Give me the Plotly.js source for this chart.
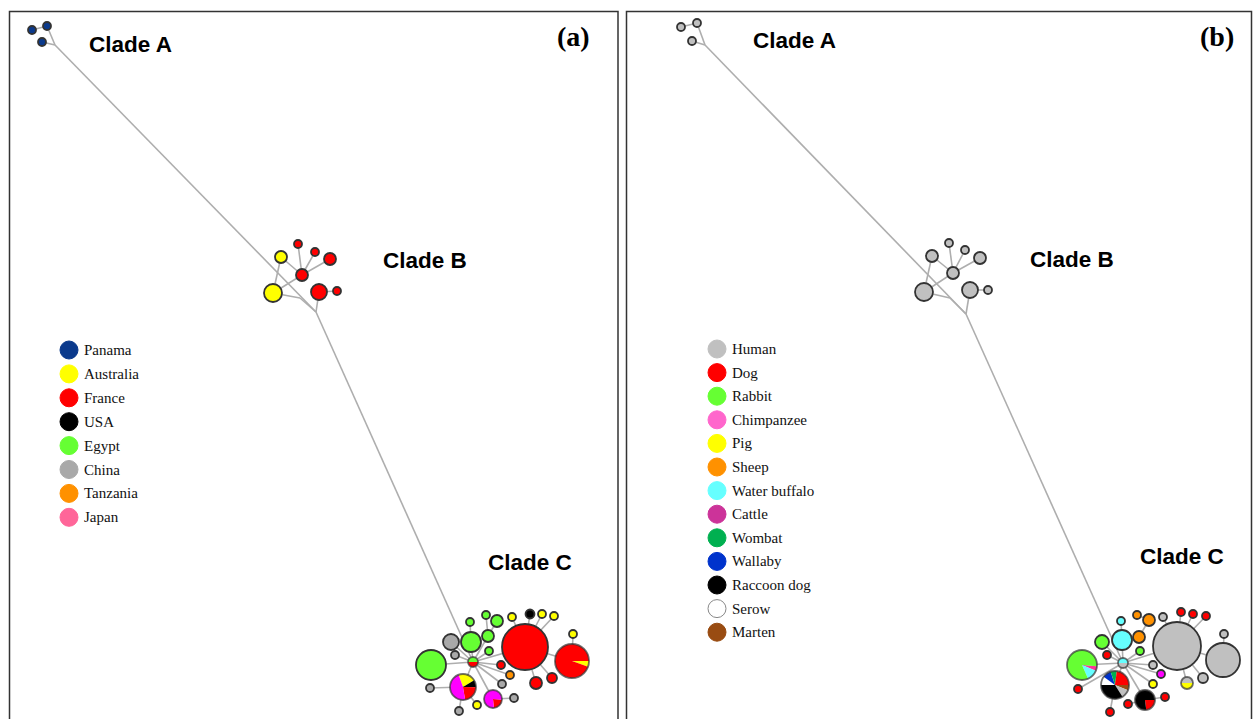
<!DOCTYPE html>
<html>
<head>
<meta charset="utf-8">
<script src="https://cdn.plot.ly/plotly-3.0.1.min.js"></script>
<style>html,body{margin:0;padding:0;background:#fff;}#chart{width:1254px;height:719px;}</style>
</head>
<body>
<div id="chart"></div>
<script>
// ---------- legend categories ----------
const countryNames = ['Panama','Australia','France','USA','Egypt','China','Tanzania','Japan'];
const countryColors = ['#0b3a8c','#ffff00','#ff0000','#000000','#66ff33','#a9a9a9','#ff9100','#ff6699'];
const hostNames = ['Human','Dog','Rabbit','Chimpanzee','Pig','Sheep','Water buffalo','Cattle','Wombat','Wallaby','Raccoon dog','Serow','Marten'];
const hostColors = ['#c0c0c0','#ff0000','#66ff33','#ff66cc','#ffff00','#ff9100','#66ffff','#cc3399','#00b050','#0033cc','#000000','#ffffff','#994c12'];
const extraColors = {magenta:'#ff00ff', pink:'#ff3399', none:null};

// ---------- panel (a) network: node layout positions, radius, category ----------
const aNodeX = [32,47,42,55, 316,300,273,281,302,298,315,330,319,337,
  473,431,451,471,470,488,486,497,489,455,501,510,502,463,493,514,477,459,430,525,572,573,512,530,542,554,536,552];
const aNodeY = [30,26,42,45, 312,298,293,257,275,244,252,259,292,291,
  662,665,642,642,622,636,615,621,651,655,665,675,684,687,699,698,705,711,688,647,661,634,617,614,614,616,683,678];
const aNodeR = [4,4,4,0, 0,0,9,6,6,4,4,6,8,4,
  5,15,8,10,4,6,4,6,4,4,4,4,4,13,9,4,4,4,4,23,17,4,4,4.5,4,4,6,5];
const aNodeCat = ['Panama','Panama','Panama','none','none','none','Australia','Australia','France','France','France','France','France','France',
  'pie','Egypt','China','Egypt','Egypt','Egypt','Egypt','Egypt','Egypt','China','France','Tanzania','China','pie','pie','China','Australia','China','China','France','pie','Australia','Australia','USA','Australia','Australia','France','France'];
const aEdges = [[0,1],[1,3],[2,3],[3,4],[4,5],[5,6],[6,7],[6,8],[8,7],[8,9],[8,10],[8,11],[12,4],[12,13],[4,14],
  [14,15],[14,16],[14,23],[14,17],[17,18],[14,19],[19,20],[19,21],[14,22],[14,24],[14,25],[14,26],[14,27],[14,28],[28,29],[27,30],[27,31],[27,32],[14,33],[33,34],[34,35],[33,36],[33,37],[33,38],[33,39],[33,40],[33,41]];
const aPieNodes = [14,27,28,34];
const aPieStart = [0,-110,5,0];
const aPieCats = [['France','Egypt'],['Australia','USA','France','magenta'],['France','magenta'],['Australia','France']];
const aPieFrac = [[0.5,0.5],[0.22,0.09,0.22,0.47],[0.22,0.78],[0.055,0.945]];

// ---------- panel (b) network ----------
const bNodeX = [681,697,692,705, 966,950,924,932,953,949,965,980,970,988,
  1123,1122,1121,1137,1149,1139,1102,1140,1107,1082,1153,1161,1153,1078,1115,1145,1165,1128,1110,1177,1223,1224,1163,1181,1193,1206,1187,1203];
const bNodeY = [27,23,41,45, 314,298,292,256,273,243,250,258,290,290,
  663,640,621,615,620,637,642,651,655,665,665,674,684,689,685,700,697,704,712,646,660,634,617,612,614,616,683,678];
const bNodeR = [4,4,4,0, 0,0,9,6,6,4,4,6,8,4,
  5,10,4,4,6,6,7,4,4,15,4,4,4,4,14,10,4,4,4,24,17,4,4,4,4,4,6,5];
const bNodeCat = ['Human','Human','Human','none','none','none','Human','Human','Human','Human','Human','Human','Human','Human',
  'pie','Water buffalo','Water buffalo','Sheep','Sheep','Sheep','Rabbit','Rabbit','Dog','pie','Human','magenta','Pig','Dog','pie','pie','Dog','Dog','Dog','Human','Human','Human','Human','Dog','Dog','Dog','pie','Human'];
const bEdges = [[0,1],[1,3],[2,3],[3,4],[4,5],[5,6],[6,7],[6,8],[8,7],[8,9],[8,10],[8,11],[12,4],[12,13],[4,14],
  [14,15],[15,16],[15,19],[19,18],[18,17],[14,20],[14,21],[14,22],[14,23],[14,24],[14,25],[14,26],[14,27],[14,28],[14,29],[29,30],[29,31],[28,32],[14,33],[33,34],[34,35],[33,36],[33,37],[33,38],[33,39],[33,40],[33,41]];
const bPieNodes = [14,23,28,29,40];
const bPieStart = [0,5,0,0,0];
const bPieCats = [['Human','Water buffalo'],['pink','Water buffalo','Rabbit'],
  ['Marten','Human','Raccoon dog','Serow','Wallaby','Wombat','Dog'],['Dog','Raccoon dog'],['Pig','Human']];
const bPieFrac = [[0.5,0.5],[0.05,0.12,0.83],[0.06,0.1,0.34,0.1,0.1,0.07,0.23],[0.23,0.77],[0.5,0.5]];

// ---------- clade labels ----------
const cladeLabels = ['Clade A','Clade B','Clade C'];

// ===================================================
const W = 1254, H = 719;
const colorOf = {};
countryNames.forEach((n,i)=>colorOf[n]=countryColors[i]);
hostNames.forEach((n,i)=>colorOf[n]=hostColors[i]);
Object.keys(extraColors).forEach(k=>colorOf[k]=extraColors[k]);

const traces = [];
const EDGE = '#aeaeae', OUT = '#333333';

function buildPanel(X,Y,R,C,E,pieN,pieS,pieC,pieF){
  const ex=[],ey=[];
  E.forEach(([i,j])=>{ex.push(X[i],X[j],null);ey.push(Y[i],Y[j],null);});
  traces.push({type:'scatter',mode:'lines',x:ex,y:ey,line:{color:EDGE,width:1.6},hoverinfo:'skip'});
  const sx=[],sy=[],ss=[],sc=[];
  X.forEach((x,i)=>{
    if(R[i]<=0 || C[i]==='pie') return;
    sx.push(x);sy.push(Y[i]);ss.push(2*R[i]);sc.push(colorOf[C[i]]);
  });
  traces.push({type:'scatter',mode:'markers',x:sx,y:sy,
    marker:{size:ss,color:sc,line:{color:OUT,width:1.8},opacity:1},hoverinfo:'skip'});
  pieN.forEach((ni,k)=>{
    const cx=X[ni],cy=Y[ni],r=R[ni];
    let a=pieS[k];
    pieF[k].forEach((f,m)=>{
      const a1=a+f*360;
      const px=[cx],py=[cy];
      for(let t=a;t<a1;t+=2){px.push(cx+r*Math.cos(t*Math.PI/180));py.push(cy+r*Math.sin(t*Math.PI/180));}
      px.push(cx+r*Math.cos(a1*Math.PI/180));py.push(cy+r*Math.sin(a1*Math.PI/180));
      px.push(cx);py.push(cy);
      traces.push({type:'scatter',mode:'lines',x:px,y:py,fill:'toself',fillcolor:colorOf[pieC[k][m]],
        line:{color:'rgba(0,0,0,0)',width:0},hoverinfo:'skip'});
      a=a1;
    });
  });
  traces.push({type:'scatter',mode:'markers',x:pieN.map(i=>X[i]),y:pieN.map(i=>Y[i]),
    marker:{size:pieN.map(i=>2*R[i]),color:'rgba(0,0,0,0)',line:{color:OUT,width:1.8}},hoverinfo:'skip'});
}
buildPanel(aNodeX,aNodeY,aNodeR,aNodeCat,aEdges,aPieNodes,aPieStart,aPieCats,aPieFrac);
buildPanel(bNodeX,bNodeY,bNodeR,bNodeCat,bEdges,bPieNodes,bPieStart,bPieCats,bPieFrac);

// legends
const annotations = [];
function buildLegend(names,colors,x0,y0,step){
  const ys = names.map((_,i)=>y0+i*step);
  traces.push({type:'scatter',mode:'markers',x:names.map(()=>x0),y:ys,
    marker:{size:18,color:colors,line:{color:colors.map(c=>c==='#ffffff'?'#888':c),width:1}},hoverinfo:'skip'});
  names.forEach((n,i)=>annotations.push({x:x0+13,y:ys[i],xref:'x',yref:'y',text:n,showarrow:false,
    xanchor:'left',yanchor:'middle',font:{family:'Liberation Serif, Times New Roman, serif',size:15,color:'#111'}}));
}
buildLegend(countryNames,countryColors,69,350,23.9);
buildLegend(hostNames,hostColors,717,349,23.6);

// clade labels
const cladeLabelPos = [[87,44,751,40],[381,260,1028,259],[486,562,1138,556]];
cladeLabels.forEach((t,i)=>{
  const p=cladeLabelPos[i];
  [[p[0],p[1]],[p[2],p[3]]].forEach(([x,y])=>annotations.push({x:x,y:y,xref:'x',yref:'y',text:'<b>'+t+'</b>',
    showarrow:false,xanchor:'left',yanchor:'middle',font:{family:'Liberation Sans, Arial, sans-serif',size:22.5,color:'#000'}}));
});
annotations.push({x:573,y:36,xref:'x',yref:'y',text:'<b>(a)</b>',showarrow:false,xanchor:'center',yanchor:'middle',
  font:{family:'Liberation Serif, Times New Roman, serif',size:28,color:'#000'}});
annotations.push({x:1217,y:36,xref:'x',yref:'y',text:'<b>(b)</b>',showarrow:false,xanchor:'center',yanchor:'middle',
  font:{family:'Liberation Serif, Times New Roman, serif',size:28,color:'#000'}});

const shapes = [
  {type:'rect',xref:'x',yref:'y',x0:9.5,y0:11.5,x1:618,y1:760,line:{color:'#333',width:1.5},layer:'below'},
  {type:'rect',xref:'x',yref:'y',x0:626.5,y0:11.5,x1:1251.5,y1:760,line:{color:'#333',width:1.5},layer:'below'}
];

const layout = {
  width:W,height:H,margin:{l:0,r:0,t:0,b:0},
  paper_bgcolor:'#fff',plot_bgcolor:'#fff',showlegend:false,
  xaxis:{range:[0,W],visible:false,fixedrange:true},
  yaxis:{range:[H,0],visible:false,fixedrange:true},
  annotations:annotations,shapes:shapes
};
Plotly.newPlot('chart',traces,layout,{staticPlot:true,displayModeBar:false});
</script>
</body>
</html>
